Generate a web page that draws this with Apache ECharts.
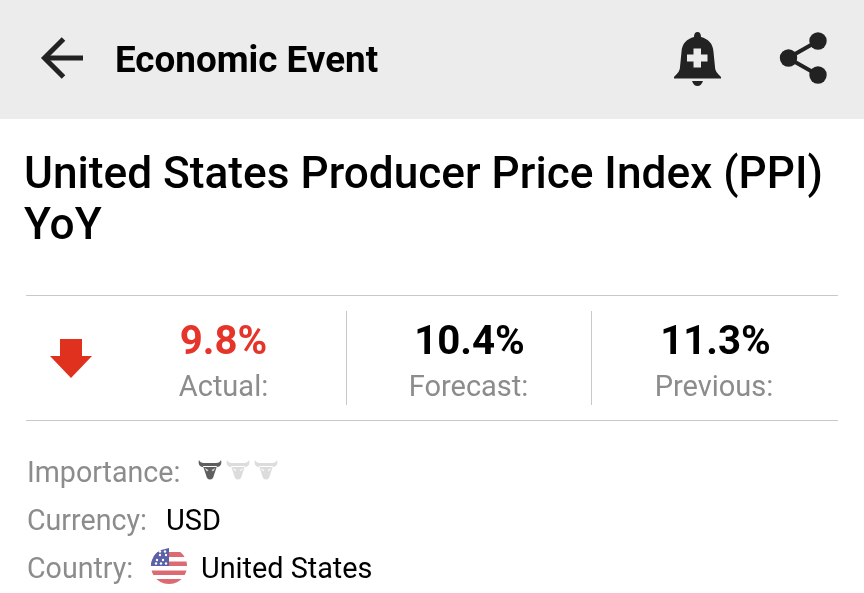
<!DOCTYPE html>
<html>
<head>
<meta charset="utf-8">
<title>Economic Event</title>
<style>
  html, body { margin: 0; padding: 0; background: #fff; }
  #main { width: 864px; height: 593px; }
</style>
<script src="https://cdn.jsdelivr.net/npm/echarts@6/dist/echarts.min.js"></script>
</head>
<body>
<div id="main"></div>
<script>
const headerTitle = 'Economic Event'
const eventTitle = ['United States Producer Price Index (PPI)', 'YoY']
const statLabels = ['Actual:', 'Forecast:', 'Previous:']
const statValues = ['9.8%', '10.4%', '11.3%']
const statColors = ['#e5352b', '#000', '#000']
const detailLabels = ['Importance:', 'Currency:', 'Country:']
const detailValues = ['', 'USD', 'United States']
// 1 of 3 bulls lit
const importanceLevel = 1

const font = 'Roboto'
const bullPath = 'M1 0C0 3 1 7 5 7L19 7C23 7 24 3 23 0C22 2 21 3 18 3L6 3C3 3 2 2 1 0ZM5 6L19 6L17 12L15 18Q12 21 9 18L7 12Z'
const bellPath = 'M24.5 0C27 0 28 2 28 5C35 7 40 11 40.5 20L42 35C42 39 45 42 48 45L48 46.5L1 46.5L1 45C4 42 7 39 7 35L8.5 20C9 11 14 7 21 5C21 2 22 0 24.5 0ZM19 49L30 49C29 52 27 54 24.5 54C22 54 20 52 19 49Z'

echarts.graphic.registerShape('bull', echarts.graphic.extendPath(bullPath))
echarts.graphic.registerShape('bell', echarts.graphic.extendPath(bellPath))

// y is the vertical middle of the text line
const txt = (x, y, text, size, fill, weight = 400, align = 'left') => ({
  type: 'text',
  x,
  y,
  style: { text, fontFamily: font, fontSize: size, fontWeight: weight, fill, align, verticalAlign: 'middle' }
})
const line = (x1, y1, x2, y2, stroke, lineWidth = 1) => ({
  type: 'line',
  shape: { x1, y1, x2, y2 },
  style: { stroke, lineWidth }
})

// 圆形内的一条横带
const band = (cx, cy, r, y1, y2, fill, xMax = null) => {
  const pts = []
  for (let i = 0; i <= 8; i++) {
    const y = y1 + (y2 - y1) * i / 8
    const dx = Math.sqrt(Math.max(r * r - (y - cy) * (y - cy), 0))
    pts.push([xMax === null ? cx + dx : xMax, y])
  }
  for (let i = 8; i >= 0; i--) {
    const y = y1 + (y2 - y1) * i / 8
    const dx = Math.sqrt(Math.max(r * r - (y - cy) * (y - cy), 0))
    pts.push([cx - dx, y])
  }
  return { type: 'polygon', shape: { points: pts }, style: { fill } }
}

const flag = () => {
  const cx = 169, cy = 566, r = 18
  const items = [
    band(cx, cy, r, 552, 557, '#dd6a72'),
    band(cx, cy, r, 561.5, 566, '#dd6a72'),
    band(cx, cy, r, 570.5, 575, '#dd6a72'),
    band(cx, cy, r, 579, 584, '#dd6a72'),
    band(cx, cy, r, 548, 566, '#5b60a8', 169)
  ]
  const stars = [[160, 555], [166, 555], [157, 560], [163, 560], [156, 563.5], [161, 563.5], [166, 563.5], [160, 551.5], [165, 551.5]]
  stars.forEach(([x, y]) => {
    items.push({ type: 'circle', shape: { cx: x, cy: y, r: 1.2 }, style: { fill: '#fff' } })
  })
  return items
}

const bulls = () => {
  const items = []
  for (let i = 0; i < 3; i++) {
    const x = 198 + i * 28
    const lit = i < importanceLevel
    items.push({ type: 'bull', x, y: 460, style: { fill: lit ? '#5f5f5f' : '#dcdcdc' } })
    items.push({ type: 'polygon', shape: { points: [[x + 6.5, 468], [x + 10.5, 470], [x + 9, 471.5]] }, style: { fill: lit ? '#ddd' : '#f6f6f6' } })
    items.push({ type: 'polygon', shape: { points: [[x + 17.5, 468], [x + 13.5, 470], [x + 15, 471.5]] }, style: { fill: lit ? '#ddd' : '#f6f6f6' } })
  }
  return items
}

const statX = [223.5, 469.5, 715.5]
const statLabelX = [223.5, 468.5, 714]
const detailY = [475, 523, 571]

const elements = [
  { type: 'rect', shape: { x: 0, y: 0, width: 864, height: 119 }, style: { fill: '#ececec' } },
  // 返回箭头
  { type: 'polyline', shape: { points: [[63.5, 39], [44.5, 58], [63.5, 77]] }, style: { stroke: '#222', lineWidth: 5, fill: 'none' } },
  line(45, 58, 83, 58, '#222', 5),
  txt(115, 63, headerTitle, 36.8, '#000', 700),
  // 提醒铃
  { type: 'bell', x: 673, y: 32, style: { fill: '#222' } },
  { type: 'rect', shape: { x: 693.5, y: 48.5, width: 7.5, height: 19 }, style: { fill: '#ececec' } },
  { type: 'rect', shape: { x: 687, y: 54.5, width: 20.5, height: 7 }, style: { fill: '#ececec' } },
  // 分享
  { type: 'polyline', shape: { points: [[818, 41], [788, 58], [818, 75]] }, style: { stroke: '#222', lineWidth: 4, fill: 'none' } },
  { type: 'circle', shape: { cx: 818, cy: 41, r: 8.7 }, style: { fill: '#222' } },
  { type: 'circle', shape: { cx: 788.5, cy: 58, r: 8.7 }, style: { fill: '#222' } },
  { type: 'circle', shape: { cx: 818, cy: 75, r: 8.7 }, style: { fill: '#222' } },
  // 标题
  txt(24, 177, eventTitle[0], 44.2, '#000', 500),
  txt(24, 228, eventTitle[1], 44.2, '#000', 500),
  line(26, 295.5, 838, 295.5, '#c8c8c8'),
  line(26, 420.5, 838, 420.5, '#c8c8c8'),
  line(346.5, 311, 346.5, 405, '#c8c8c8'),
  line(591.5, 311, 591.5, 405, '#c8c8c8'),
  { type: 'polygon', shape: { points: [[60, 339], [82, 339], [82, 356], [92, 356], [71, 378], [50, 356], [60, 356]] }, style: { fill: '#e0301e' } },
  ...statValues.map((v, i) => txt(statX[i], 344, v, 40.2, statColors[i], 700, 'center')),
  ...statLabels.map((v, i) => txt(statLabelX[i], 389, v, 29, '#8c8c8c', 400, 'center')),
  ...detailLabels.map((v, i) => txt(27, detailY[i], v, 28.6, '#8c8c8c')),
  txt(166, detailY[1], detailValues[1], 29, '#000'),
  txt(201, detailY[2], detailValues[2], 28.8, '#000'),
  ...bulls(),
  ...flag()
]

const chart = echarts.init(document.getElementById('main'))
chart.setOption({
  animation: false,
  backgroundColor: '#fff',
  graphic: { elements }
})
</script>
</body>
</html>
